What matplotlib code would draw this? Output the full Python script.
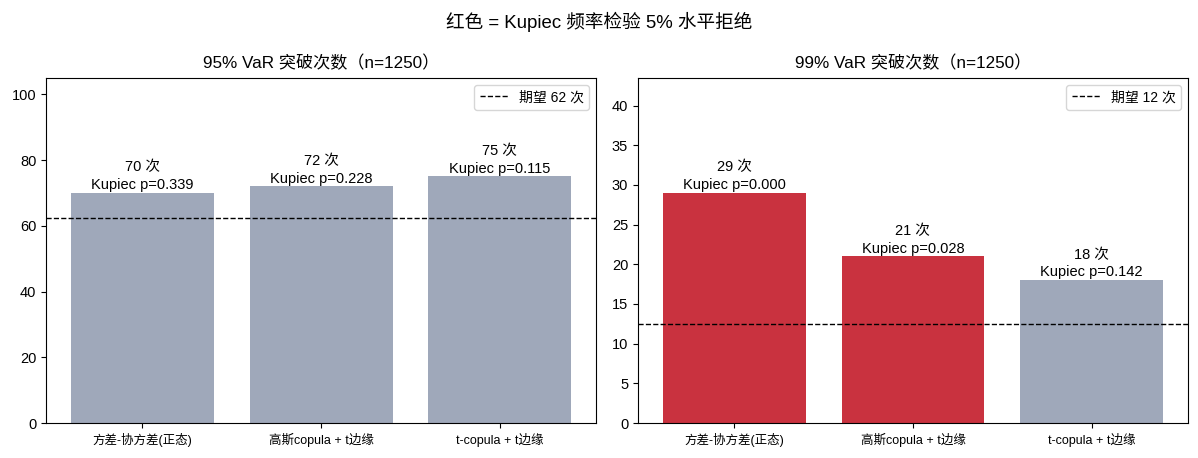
import numpy as np
import matplotlib.pyplot as plt

plt.rcParams['font.family'] = ['Liberation Sans', 'Noto Sans CJK SC', 'DejaVu Sans']
plt.rcParams['axes.unicode_minus'] = False

############################# DATA ###################################
methods = ['方差-协方差(正态)', '高斯copula + t边缘', 't-copula + t边缘']
n_obs = 1250
hits_95 = [70, 72, 75]
pvals_95 = [0.339, 0.228, 0.115]
hits_99 = [29, 21, 18]
pvals_99 = [0.000, 0.028, 0.142]

grey = '#9fa8ba'
red = '#c9323f'

fig, axes = plt.subplots(1, 2, figsize=(11.98, 4.58), dpi=100)

panels = [(axes[0], 0.95, hits_95, pvals_95, 105),
          (axes[1], 0.99, hits_99, pvals_99, 43.5)]

for ax, level, hits, pvals, ytop in panels:
    expected = n_obs * (1 - level)
    x = np.arange(len(methods))
    colors = [red if p < 0.05 else grey for p in pvals]
    ax.bar(x, hits, color=colors, width=0.8)
    ax.axhline(expected, color='k', ls='--', lw=1,
               label='期望 {} 次'.format(int(expected)))
    for xi, h, p in zip(x, hits, pvals):
        ax.text(xi, h + ytop * 0.002, '{} 次\nKupiec p={:.3f}'.format(h, p),
                ha='center', va='bottom', fontsize=10.5, linespacing=1.35)
    ax.set_xticks(x)
    ax.set_xticklabels(methods, fontsize=9)
    ax.set_ylim(0, ytop)
    ax.tick_params(axis='y', labelsize=10.5)
    ax.set_title('{}% VaR 突破次数（n={}）'.format(int(level * 100), n_obs),
                 fontsize=12.3, pad=7)
    ax.legend(loc='upper right', fontsize=10)

fig.suptitle('红色 = Kupiec 频率检验 5% 水平拒绝', fontsize=13.4, y=0.975)
fig.subplots_adjust(left=0.0384, right=0.9917, top=0.83, bottom=0.0764, wspace=0.076)
fig.savefig('out.png')
